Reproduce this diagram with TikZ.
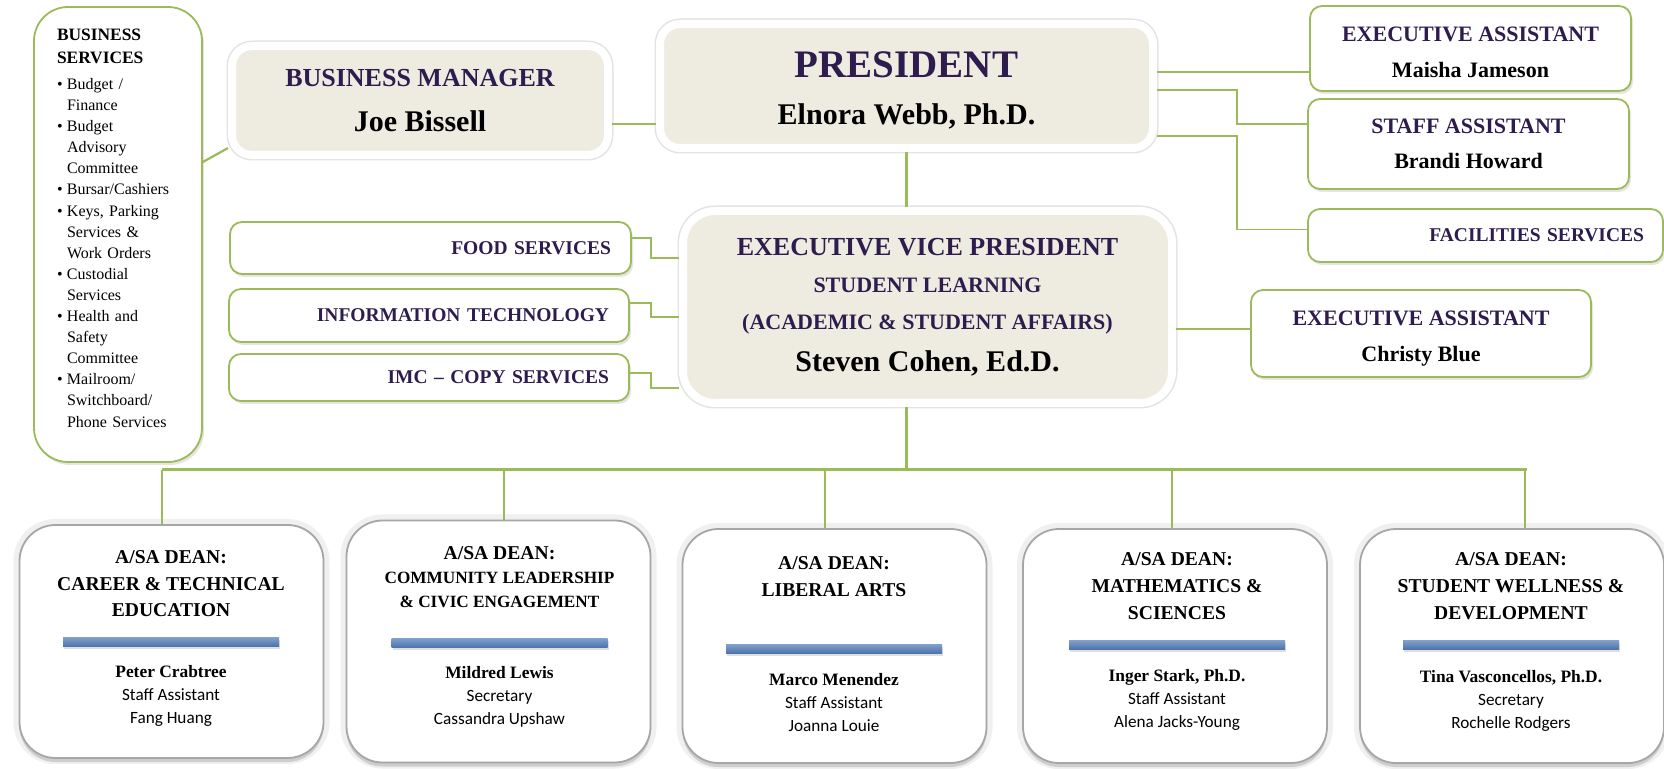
\documentclass[tikz,border=0pt]{standalone}
\usepackage{fontspec}
\setmainfont{Liberation Serif}
\newfontfamily\calfont{Carlito}
\usepackage{xcolor}
\usepackage{tikz}
\usetikzlibrary{shadows}
\definecolor{orggreen}{HTML}{9BBB59}
\definecolor{orgbeige}{HTML}{EEECE1}
\definecolor{orgpurple}{HTML}{2E1C4E}
\definecolor{barlight}{HTML}{809FCB}
\definecolor{bardark}{HTML}{4C73A9}
\newcommand{\svcitem}{\makebox[5pt][l]{\textbullet}}
\newcommand{\svcpad}{\hspace*{5pt}}
\newcommand{\rolefont}{\calfont\mdseries\fontsize{8.6}{11.5}\selectfont}

\begin{document}
\begin{tikzpicture}[x=0.5pt,y=-0.5pt]
	\tikzstyle{headbox}=[draw=white, line width=4pt, fill=orgbeige, rounded corners=10pt, align=center, preaction={draw=gray!22, line width=5.5pt}, drop shadow={opacity=.3,shadow xshift=1pt,shadow yshift=-1.5pt}]
	\tikzstyle{greenbox}=[draw=orggreen, line width=0.9pt, fill=white, rounded corners=6pt, align=center, drop shadow={opacity=.2,shadow xshift=1pt,shadow yshift=-1.5pt}]
	\tikzstyle{svcbox}=[greenbox, inner xsep=10pt, align=right, text=orgpurple, font=\bfseries\fontsize{9.75}{11}\selectfont]
	\tikzstyle{deanbox}=[draw=gray!70, line width=0.9pt, fill=white, rounded corners=18pt, minimum width=152pt, preaction={draw=gray!12, line width=6pt}, drop shadow={opacity=.3,shadow xshift=0pt,shadow yshift=-2pt}]
	\tikzstyle{deanbar}=[minimum width=108pt, minimum height=4.5pt, inner sep=0pt, top color=barlight, bottom color=bardark, drop shadow={opacity=.25,shadow xshift=0.5pt,shadow yshift=-1pt}]
	\tikzstyle{deantitle}=[align=center, font=\bfseries\fontsize{9.8}{13.5}\selectfont]
	\tikzstyle{deanname}=[align=center, font=\bfseries\fontsize{8.7}{11.5}\selectfont]
	\tikzstyle{link}=[draw=orggreen, line width=1.1pt]
	\tikzstyle{bus}=[draw=orggreen, line width=1.5pt]
	\fill[white] (0,0) rectangle (1664,769);
	\useasboundingbox (0,0) rectangle (1664,769);

	\node[greenbox, rounded corners=17pt, minimum height=227.5pt, text width=61pt, inner xsep=11.5pt, align=left, font=\fontsize{8}{10.55}\selectfont] (bizsvc) at (118,234.5)
		{{\bfseries\fontsize{8.7}{11.5}\selectfont BUSINESS\\SERVICES\par}\vspace{2.5pt}
		\svcitem Budget /\\\svcpad Finance\\
		\svcitem Budget\\\svcpad Advisory\\\svcpad Committee\\
		\svcitem Bursar/Cashiers\\
		\svcitem Keys, Parking\\\svcpad Services \&\\\svcpad Work Orders\\
		\svcitem Custodial\\\svcpad Services\\
		\svcitem Health and\\\svcpad Safety\\\svcpad Committee\\
		\svcitem Mailroom/\\\svcpad Switchboard/\\\svcpad Phone Services\\[-4pt]\mbox{}};
	\node[headbox, minimum width=188pt, minimum height=54.5pt, font=\bfseries\fontsize{15}{22.75}\selectfont] (bizmgr) at (420,100.5)
		{{\color{orgpurple}\fontsize{13}{15}\selectfont BUSINESS MANAGER}\\Joe Bissell};
	\node[headbox, minimum width=246.5pt, minimum height=62pt, font=\bfseries\fontsize{15}{23.5}\selectfont] (pres) at (906.5,86)
		{\rule{0pt}{17.7pt}{\color{orgpurple}\fontsize{19.5}{22}\selectfont PRESIDENT}\\Elnora Webb, Ph.D.};
	\node[headbox, rounded corners=16pt, minimum width=244.5pt, minimum height=96pt, font=\bfseries\fontsize{11}{18.5}\selectfont] (evp) at (927.5,307)
		{{\color{orgpurple}\fontsize{13}{15}\selectfont EXECUTIVE VICE PRESIDENT}\\
		{\color{orgpurple}STUDENT LEARNING}\\
		{\color{orgpurple}(ACADEMIC \& STUDENT AFFAIRS)}\\[2.75pt]
		{\fontsize{15}{17}\selectfont Steven Cohen, Ed.D.}};

	\node[greenbox, minimum width=160.5pt, minimum height=42.5pt, font=\bfseries\fontsize{11}{18}\selectfont] (exa) at (1470.5,48.5)
		{\rule{0pt}{10.8pt}{\color{orgpurple}EXECUTIVE ASSISTANT}\\Maisha Jameson};
	\node[greenbox, minimum width=160.5pt, minimum height=45pt, font=\bfseries\fontsize{11}{17.5}\selectfont] (stf) at (1468.5,144)
		{{\color{orgpurple}STAFF ASSISTANT}\\Brandi Howard};
	\node[svcbox, text width=158.5pt, inner xsep=9.5pt, minimum height=26.5pt] (fac) at (1485.5,235.5) {FACILITIES SERVICES};
	\node[greenbox, minimum width=170pt, minimum height=43.5pt, font=\bfseries\fontsize{11}{18}\selectfont] (exb) at (1421,333.5)
		{\rule{0pt}{12.1pt}{\color{orgpurple}EXECUTIVE ASSISTANT}\\Christy Blue};

	\node[svcbox, text width=180.5pt, minimum height=26pt] (food) at (430.5,248) {FOOD SERVICES};
	\node[svcbox, text width=180pt, minimum height=26.5pt] (it) at (429,315.5) {INFORMATION TECHNOLOGY};
	\node[svcbox, text width=180pt, minimum height=23.5pt] (imc) at (429,377.5) {IMC -- COPY SERVICES};

	\node[deanbox, minimum height=116.5pt] (d1) at (171.5,641.5) {};
	\node[deanbox, minimum height=121pt] (d2) at (498.5,641.5) {};
	\node[deanbox, minimum height=117pt] (d3) at (834.5,646) {};
	\node[deanbox, minimum height=117pt] (d4) at (1175,646) {};
	\node[deanbox, minimum height=117pt] (d5) at (1512,646) {};

	\node[deantitle, font=\bfseries\fontsize{9.8}{13.25}\selectfont] (t1) at (171,584) {A/SA DEAN:\\CAREER \& TECHNICAL\\EDUCATION};
	\node[deantitle, font=\bfseries\fontsize{8.6}{12}\selectfont] (t2) at (499.5,577) {{\fontsize{9.8}{12}\selectfont A/SA DEAN:}\\COMMUNITY LEADERSHIP\\\& CIVIC ENGAGEMENT};
	\node[deantitle] (t3) at (834,577) {A/SA DEAN:\\LIBERAL ARTS};
	\node[deantitle] (t4) at (1177,586) {A/SA DEAN:\\MATHEMATICS \&\\SCIENCES};
	\node[deantitle] (t5) at (1511,586.5) {A/SA DEAN:\\STUDENT WELLNESS \&\\DEVELOPMENT};

	\node[deanbar] (bar1) at (171,642) {};
	\node[deanbar] (bar2) at (499.5,643) {};
	\node[deanbar] (bar3) at (834,649) {};
	\node[deanbar] (bar4) at (1177,645) {};
	\node[deanbar] (bar5) at (1511,645) {};

	\node[deanname] (n1) at (171,696) {Peter Crabtree\\{\rolefont Staff Assistant}\\{\rolefont Fang Huang}};
	\node[deanname] (n2) at (499.5,697) {Mildred Lewis\\{\rolefont Secretary}\\{\rolefont Cassandra Upshaw}};
	\node[deanname] (n3) at (834,702.5) {Marco Menendez\\{\rolefont Staff Assistant}\\{\rolefont Joanna Louie}};
	\node[deanname] (n4) at (1177,700) {Inger Stark, Ph.D.\\{\rolefont Staff Assistant}\\{\rolefont Alena Jacks-Young}};
	\node[deanname] (n5) at (1511,700.5) {Tina Vasconcellos, Ph.D.\\{\rolefont Secretary}\\{\rolefont Rochelle Rodgers}};

	\coordinate (busL) at (162,470);
	\coordinate (busR) at (1527,470);

	\draw[link] ([yshift=36.25pt]bizsvc.east) -- ([yshift=-23.75pt]bizmgr.west);
	\draw[link] ([yshift=-11.75pt]bizmgr.east) -- ([yshift=-11.75pt]bizmgr.east -| pres.west);
	\draw[link] (pres.south) -- (pres.south |- evp.north);
	\draw[link] ([yshift=7pt]pres.east) -- ([yshift=7pt]pres.east -| exa.west);
	\draw[link, line width=0.8pt] ([yshift=-2pt]pres.east) -- ++(40pt,0) |- ([yshift=10pt]stf.west);
	\draw[link, line width=0.8pt] ([yshift=-25pt]pres.east) -- ++(40pt,0) |- ([yshift=3pt]fac.west);
	\draw[link, line width=0.8pt] ([yshift=5pt]food.east) -- ++(9.5pt,0) |- ([yshift=24.5pt]evp.west);
	\draw[link, line width=0.8pt] ([yshift=6.25pt]it.east) -- ++(10.5pt,0) |- ([yshift=-5pt]evp.west);
	\draw[link, line width=0.8pt] ([yshift=2.25pt]imc.east) -- ++(10.5pt,0) |- ([yshift=-40.5pt]evp.west);
	\draw[link] ([yshift=-11pt]evp.east) -- ([yshift=-11pt]evp.east -| exb.west);
	\draw[bus] (pres.south |- evp.south) -- (pres.south |- busL);
	\draw[bus] (busL) -- (busR);
	\draw[link] (busL) -- (busL |- d1.north);
	\foreach \x/\d in {504/d2,825/d3,1172/d4,1525/d5}
		\draw[link] (\x,470) -- (\x,470 |- \d.north);
\end{tikzpicture}
\end{document}
